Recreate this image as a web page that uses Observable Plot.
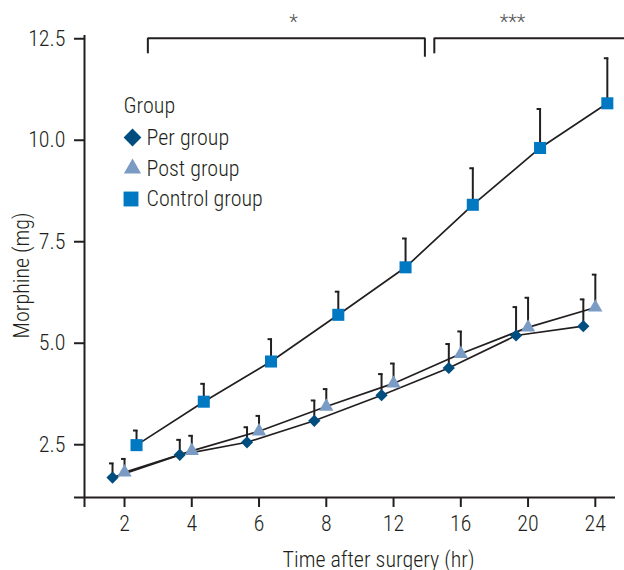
<!DOCTYPE html>
<html><head><meta charset="utf-8">
<script src="https://cdn.jsdelivr.net/npm/d3@7"></script>
<script src="https://cdn.jsdelivr.net/npm/@observablehq/plot@0.6"></script>
<style>
body{margin:0;background:#fff}
#chart svg{display:block}
</style>
</head><body><div id="chart"></div>
<script>
// ---- data ----
const times = ["2", "4", "6", "8", "12", "16", "20", "24"];
const groups = ["Per group", "Post group", "Control group"];
const perMean   = [1.69, 2.25, 2.56, 3.09, 3.72, 4.39, 5.19, 5.42];
const perUpper  = [2.04, 2.62, 2.93, 3.59, 4.24, 4.98, 5.89, 6.08];
const postMean  = [1.82, 2.35, 2.83, 3.44, 4.01, 4.74, 5.39, 5.88];
const postUpper = [2.15, 2.72, 3.21, 3.87, 4.50, 5.29, 6.12, 6.69];
const ctrlMean  = [2.49, 3.56, 4.55, 5.70, 6.87, 8.41, 9.81, 10.91];
const ctrlUpper = [2.85, 4.00, 5.10, 6.27, 7.58, 9.31, 10.77, 12.02];
const yTicks = [2.5, 5.0, 7.5, 10.0, 12.5];
// significance brackets (x in time-index units, y in mg)
const brackets = [
  {x1: 0.347, x2: 4.466, y: 12.513, drop1: 12.129, drop2: 12.045, label: "*", lx: 2.513},
  {x1: 4.606, x2: 7.44, y: 12.513, drop1: 12.129, drop2: null, label: "***", lx: 5.77}
];

// ---- styling ----
const colors = ["#004d80", "#7a9cc4", "#0079c2"];
const symbols = ["diamond2", "triangle", "square"];
const radii = [5.5, 5.3, 6.8];
const legendRadii = [8.0, 6.4, 8.4];
const offsets = [-12, 0, 12];
const ink = "#231f20";
const font = "'Liberation Sans Narrow', 'Roboto Condensed', 'DejaVu Sans Condensed', 'Roboto', sans-serif";

const means = [perMean, postMean, ctrlMean];
const uppers = [perUpper, postUpper, ctrlUpper];
const series = groups.map((g, gi) => times.map((t, i) => ({group: g, i, time: t, mean: means[gi][i], upper: uppers[gi][i]})));

const capSymbol = {draw(ctx) { ctx.moveTo(-3.5, 0); ctx.lineTo(1, 0); }};

const marks = [];
// axis lines
marks.push(Plot.ruleY([1.2], {stroke: ink, strokeWidth: 2, insetLeft: -10}));
marks.push(Plot.ruleX([-0.595], {stroke: ink, strokeWidth: 2, insetBottom: -10}));
marks.push(Plot.axisY({ticks: yTicks, tickFormat: d3.format(".1f"), tickSize: 10, tickPadding: 9, fontSize: 22, stroke: ink, strokeWidth: 2, fill: ink, label: null}));
marks.push(Plot.axisX({ticks: d3.range(times.length), tickFormat: i => times[i], tickSize: 10, tickPadding: 8, fontSize: 22, stroke: ink, strokeWidth: 2, fill: ink, label: null}));

// lines
series.forEach((s, gi) => {
  marks.push(Plot.line(s, {x: "i", y: "mean", dx: offsets[gi], stroke: ink, strokeWidth: 1.7}));
});
// error bars
series.forEach((s, gi) => {
  marks.push(Plot.ruleX(s, {x: "i", y1: "mean", y2: "upper", dx: offsets[gi], stroke: ink, strokeWidth: 2}));
  marks.push(Plot.dot(s, {x: "i", y: "upper", dx: offsets[gi], symbol: capSymbol, r: 3, fill: "none", stroke: ink, strokeWidth: 2}));
});
// markers
series.forEach((s, gi) => {
  marks.push(Plot.dot(s, {x: "i", y: "mean", dx: offsets[gi], symbol: symbols[gi], r: radii[gi], fill: colors[gi], stroke: "none"}));
});

// brackets
marks.push(Plot.link(brackets, {x1: "x1", x2: "x2", y1: "y", y2: "y", stroke: ink, strokeWidth: 2}));
marks.push(Plot.ruleX(brackets, {x: "x1", y1: "y", y2: "drop1", stroke: ink, strokeWidth: 2}));
marks.push(Plot.ruleX(brackets.filter(b => b.drop2 != null), {x: "x2", y1: "y", y2: "drop2", stroke: ink, strokeWidth: 2}));
marks.push(Plot.text(brackets, {x: "lx", y: 12.9, text: "label", fontSize: 20, fill: "#555", lineAnchor: "middle"}));

// legend
marks.push(Plot.text(["Group"], {frameAnchor: "top-left", dx: 39, dy: 70, textAnchor: "start", lineAnchor: "middle", fontSize: 22, fill: ink}));
const legendDy = [102, 133, 163.5];
const legendDx = [48, 48, 46.5];
groups.forEach((g, gi) => {
  marks.push(Plot.dot([g], {frameAnchor: "top-left", dx: legendDx[gi], dy: legendDy[gi], symbol: symbols[gi], r: legendRadii[gi], fill: colors[gi], stroke: "none"}));
  marks.push(Plot.text([g], {frameAnchor: "top-left", dx: 62, dy: legendDy[gi], textAnchor: "start", lineAnchor: "middle", fontSize: 22, fill: ink}));
});

// axis titles
marks.push(Plot.text(["Time after surgery (hr)"], {frameAnchor: "bottom", dx: 28.5, dy: 62, textAnchor: "middle", lineAnchor: "middle", fontSize: 22, fill: ink}));
marks.push(Plot.text(["Morphine (mg)"], {frameAnchor: "left", dx: -63, dy: 9, rotate: -90, textAnchor: "middle", lineAnchor: "middle", fontSize: 22, fill: ink}));

const chart = Plot.plot({
  width: 624,
  height: 570,
  marginLeft: 84,
  marginRight: 9,
  marginTop: 35,
  marginBottom: 73,
  style: {fontFamily: font, fontWeight: 300, background: "#fff", color: ink, overflow: "visible"},
  x: {type: "linear", domain: [-0.595, 7.30]},
  y: {domain: [1.2, 12.58]},
  marks
});
document.getElementById("chart").appendChild(chart);
</script>
</body></html>
